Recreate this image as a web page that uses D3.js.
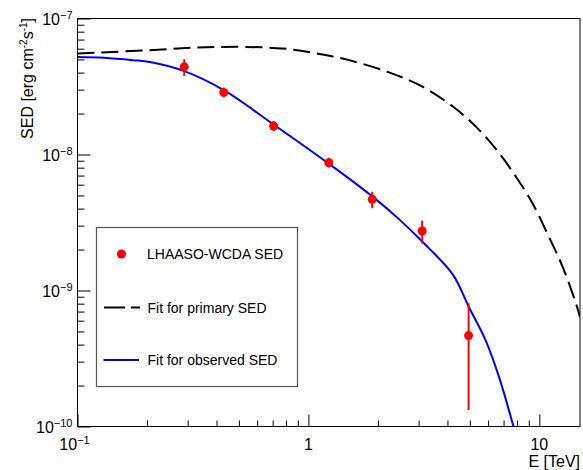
<!DOCTYPE html>
<html>
<head>
<meta charset="utf-8">
<script src="https://cdn.jsdelivr.net/npm/d3@7"></script>
<style>
  body { margin: 0; background: #fff; }
  text { font-family: "Liberation Sans", Arial, sans-serif; fill: #000; }
</style>
</head>
<body>
<script>
// measured points (LHAASO-WCDA SED)
var pointE = [0.29, 0.43, 0.707, 1.226, 1.89, 3.11, 4.94];
var pointF = [4.41e-8, 2.86e-8, 1.617e-8, 8.69e-9, 4.68e-9, 2.74e-9, 4.66e-10];
var errLow = [3.77e-8, 2.63e-8, 1.485e-8, 8.04e-9, 4.02e-9, 2.22e-9, 1.32e-10];
var errHigh = [5.02e-8, 3.11e-8, 1.76e-8, 9.46e-9, 5.32e-9, 3.26e-9, 8.05e-10];

// fit for primary SED (dashed)
var primE = [0.1, 0.206, 0.4, 0.77, 1.1, 1.5, 2.25, 3.13, 4.36, 5.5, 6.71, 7.92, 9.35, 11.0, 12.6, 14.4, 15];
var primF = [5.53e-8, 5.85e-8, 6.18e-8, 6.02e-8, 5.51e-8, 4.94e-8, 4.0e-8, 3.14e-8, 2.16e-8, 1.51e-8,
             1.02e-8, 6.86e-9, 4.37e-9, 2.48e-9, 1.50e-9, 8.05e-10, 6.4e-10];

// fit for observed SED (blue)
var obsE = [0.1, 0.13, 0.174, 0.206, 0.29, 0.43, 0.707, 1.225, 1.89, 2.48, 3.11, 4.23, 4.94, 5.88, 6.71, 7.79, 8.2];
var obsF = [5.22e-8, 5.15e-8, 4.94e-8, 4.78e-8, 4.10e-8, 2.97e-8, 1.659e-8, 8.57e-9, 4.92e-9, 3.32e-9,
            2.29e-9, 1.304e-9, 7.63e-10, 4.23e-10, 2.28e-10, 9.5e-11, 6.8e-11];

var xMajor = [0.1, 1, 10];
var xLabels = [["10", "\u22121"], ["1", ""], ["10", ""]];
var yMajor = [1e-10, 1e-9, 1e-8, 1e-7];
var yLabels = ["\u221210", "\u22129", "\u22128", "\u22127"];

var width = 583, height = 470;
var margin = {left: 77.5, right: 3, top: 18.5, bottom: 43.5};
var w = width - margin.left - margin.right;
var h = height - margin.top - margin.bottom;

var x = d3.scaleLog().domain([0.1, 15]).range([0, w]);
var y = d3.scaleLog().domain([1e-10, 1e-7]).range([h, 0]);

var svg = d3.select("body").append("svg").attr("width", width).attr("height", height);
var g = svg.append("g").attr("transform", "translate(" + margin.left + "," + margin.top + ")");

g.append("clipPath").attr("id", "clip").append("rect").attr("width", w).attr("height", h);

// minor ticks
var xMinor = [];
[0.1, 1].forEach(function(d) { for (var k = 2; k <= 9; k++) xMinor.push(d * k); });
var yMinor = [];
[1e-10, 1e-9, 1e-8].forEach(function(d) { for (var k = 2; k <= 9; k++) yMinor.push(d * k); });

g.append("g").attr("transform", "translate(0," + h + ")")
  .call(d3.axisBottom(x).tickValues(xMinor).tickSize(-6).tickSizeOuter(0).tickFormat(""));
g.append("g").attr("transform", "translate(0," + h + ")")
  .call(d3.axisBottom(x).tickValues(xMajor).tickSize(-12).tickSizeOuter(0).tickFormat(""));
g.append("g")
  .call(d3.axisLeft(y).tickValues(yMinor).tickSize(-7).tickSizeOuter(0).tickFormat(""));
g.append("g")
  .call(d3.axisLeft(y).tickValues(yMajor).tickSize(-13).tickSizeOuter(0).tickFormat(""));
g.selectAll(".domain").remove();
g.selectAll(".tick line").attr("stroke", "#000");

// frame
g.append("rect").attr("width", w).attr("height", h)
  .attr("fill", "none").attr("stroke", "#000").attr("stroke-width", 1);

// tick labels
xMajor.forEach(function(d, i) {
  var t = g.append("text").attr("x", x(d) - (i === 0 ? 3 : 0)).attr("y", h + 23)
    .attr("text-anchor", "middle").style("font-size", "16px");
  t.append("tspan").text(xLabels[i][0]);
  if (xLabels[i][1]) t.append("tspan").attr("dy", -6).style("font-size", "11px").text(xLabels[i][1]);
});
yMajor.forEach(function(d, i) {
  var t = g.append("text").attr("x", -5).attr("y", y(d) + 6)
    .attr("text-anchor", "end").style("font-size", "16px");
  t.append("tspan").text("10");
  t.append("tspan").attr("dy", -6).style("font-size", "11px").text(yLabels[i]);
});

// axis titles
svg.append("text").attr("x", 580).attr("y", 467).attr("text-anchor", "end")
  .style("font-size", "16px").text("E [TeV]");
var yt = svg.append("text").attr("transform", "translate(33,18) rotate(-90)")
  .attr("text-anchor", "end").style("font-size", "16px");
yt.append("tspan").text("SED [erg cm");
yt.append("tspan").attr("dy", -6).style("font-size", "10px").text("-2");
yt.append("tspan").attr("dy", 6).text("s");
yt.append("tspan").attr("dy", -6).style("font-size", "10px").text("-1");
yt.append("tspan").attr("dy", 6).text("]");

// curves
var line = d3.line().x(function(d) { return x(d[0]); }).y(function(d) { return y(d[1]); })
  .curve(d3.curveCatmullRom.alpha(0.5));
var curves = g.append("g").attr("clip-path", "url(#clip)");
curves.append("path").attr("d", line(d3.zip(primE, primF)))
  .attr("fill", "none").attr("stroke", "#000").attr("stroke-width", 2).attr("stroke-dasharray", "17,7");
curves.append("path").attr("d", line(d3.zip(obsE, obsF)))
  .attr("fill", "none").attr("stroke", "#0000ff").attr("stroke-width", 2);

// data points
var pts = g.append("g").attr("clip-path", "url(#clip)");
pts.selectAll("line.err").data(pointE).enter().append("line")
  .attr("x1", function(d) { return x(d); }).attr("x2", function(d) { return x(d); })
  .attr("y1", function(d, i) { return y(errLow[i]); })
  .attr("y2", function(d, i) { return y(errHigh[i]); })
  .attr("stroke", "#ff0000").attr("stroke-width", 2);
pts.selectAll("circle").data(pointE).enter().append("circle")
  .attr("cx", function(d) { return x(d); })
  .attr("cy", function(d, i) { return y(pointF[i]); })
  .attr("r", 4.5).attr("fill", "#ff0000");

// legend
var lg = svg.append("g");
lg.append("rect").attr("x", 96.5).attr("y", 227.5).attr("width", 201).attr("height", 159)
  .attr("fill", "#fff").attr("stroke", "#555").attr("stroke-width", 1.2);
lg.append("circle").attr("cx", 121.5).attr("cy", 254).attr("r", 4.5).attr("fill", "#ff0000");
lg.append("text").attr("x", 147).attr("y", 259).style("font-size", "14px").text("LHAASO-WCDA SED");
lg.append("line").attr("x1", 104).attr("x2", 140).attr("y1", 307.5).attr("y2", 307.5)
  .attr("stroke", "#000").attr("stroke-width", 2).attr("stroke-dasharray", "21,6");
lg.append("text").attr("x", 147.5).attr("y", 312.5).style("font-size", "14px").text("Fit for primary SED");
lg.append("line").attr("x1", 103.5).attr("x2", 139).attr("y1", 360).attr("y2", 360)
  .attr("stroke", "#0000ff").attr("stroke-width", 2);
lg.append("text").attr("x", 147.5).attr("y", 365).style("font-size", "14px").text("Fit for observed SED");
</script>
</body>
</html>
